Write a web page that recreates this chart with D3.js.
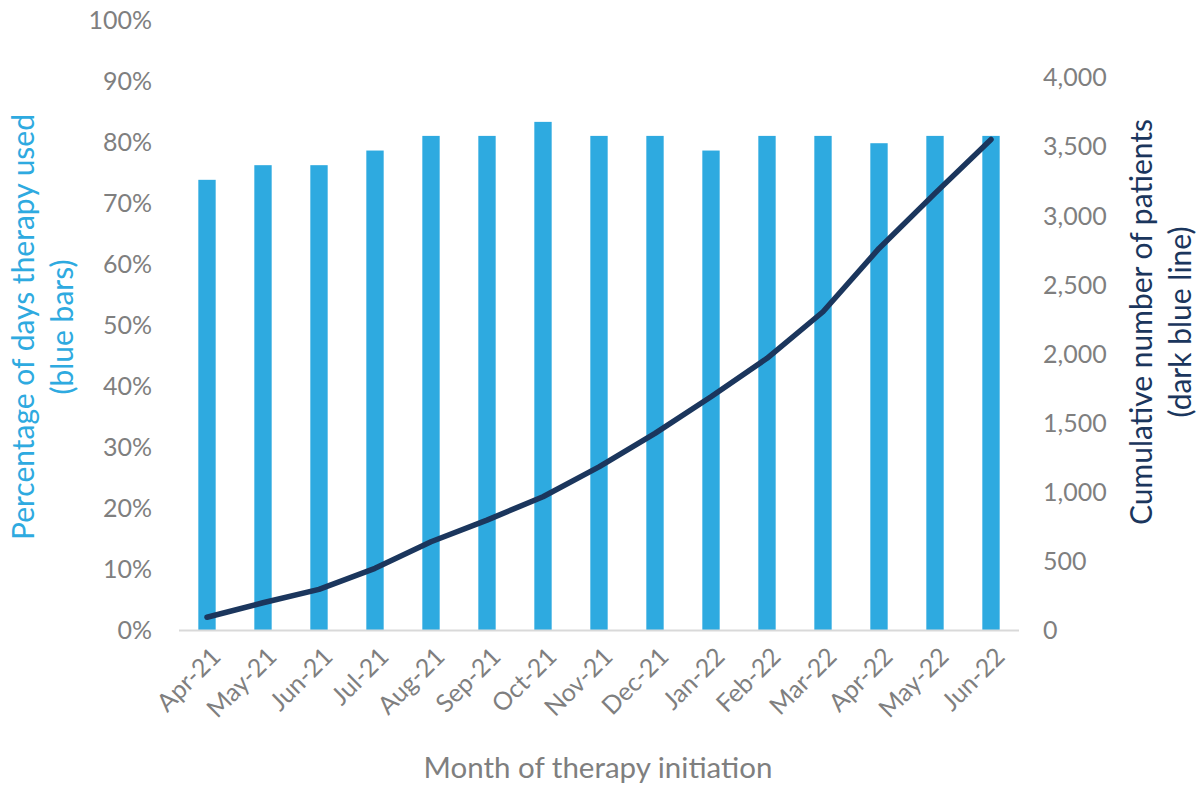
<!DOCTYPE html>
<html><head><meta charset="utf-8">
<script src="https://cdn.jsdelivr.net/npm/d3@7"></script>
<style>body{margin:0;background:#fff}svg{display:block}text{font-family:Lato,"Open Sans",sans-serif}</style>
</head><body>
<svg id="c" width="1198" height="787"></svg>
<script>
const months = ["Apr-21","May-21","Jun-21","Jul-21","Aug-21","Sep-21","Oct-21","Nov-21","Dec-21","Jan-22","Feb-22","Mar-22","Apr-22","May-22","Jun-22"];
const pctDays = [73.8,76.2,76.2,78.6,81.0,81.0,83.3,81.0,81.0,78.6,81.0,81.0,79.8,81.0,81.0];
const cumPatients = [92,197,294,446,638,795,964,1180,1422,1687,1965,2302,2760,3158,3548];
const leftTicks = [0,10,20,30,40,50,60,70,80,90,100];
const rightTicks = [0,500,1000,1500,2000,2500,3000,3500,4000];

const svg = d3.select("#c");
const x0 = 179, x1 = 1019, yb = 630, yt = 20;
const x = d3.scaleBand().domain(months).range([x0, x1]).paddingInner(0.69).paddingOuter(0.345);
const yL = d3.scaleLinear().domain([0,100]).range([yb, yt]);
const yR = d3.scaleLinear().domain([0,4000]).range([yb, 77]);
const grey = "#7f7f7f", barC = "#2eaae0", lineC = "#1b365d";

svg.append("g").selectAll("rect").data(months).join("rect")
  .attr("x", d => x(d)).attr("width", x.bandwidth())
  .attr("y", (d,i) => yL(pctDays[i])).attr("height", (d,i) => yb - yL(pctDays[i]))
  .attr("fill", barC);

svg.append("line").attr("x1", x0).attr("x2", x1).attr("y1", yb+0.5).attr("y2", yb+0.5)
  .attr("stroke", "#d9d9d9").attr("stroke-width", 2);

const line = d3.line().x((d,i) => x(months[i]) + x.bandwidth()/2).y(d => yR(d));
svg.append("path").datum(cumPatients).attr("d", line).attr("fill","none")
  .attr("stroke", lineC).attr("stroke-width", 5.5).attr("stroke-linecap","round").attr("stroke-linejoin","round");

const axL = d3.axisLeft(yL).tickValues(leftTicks).tickFormat(d => d + "%").tickSize(0).tickPadding(0);
const gL = svg.append("g").attr("transform", `translate(152,0)`).call(axL);
gL.select(".domain").remove();
gL.selectAll("text").attr("fill", grey).style("font-size","25px").attr("dy","0.35em");

const axR = d3.axisRight(yR).tickValues(rightTicks).tickFormat(d3.format(",")).tickSize(0).tickPadding(0);
const gR = svg.append("g").attr("transform", `translate(1043,0)`).call(axR);
gR.select(".domain").remove();
gR.selectAll("text").attr("fill", grey).style("font-size","25px").attr("dy","0.35em");

const axX = d3.axisBottom(x).tickSize(0).tickPadding(0);
const gX = svg.append("g").attr("transform", `translate(0,${yb})`).call(axX);
gX.select(".domain").remove();
gX.selectAll("text").attr("fill", grey).style("font-size","25px")
  .attr("text-anchor","end").attr("dy","0.35em")
  .attr("transform","translate(9,22) rotate(-45)");

svg.append("text").attr("x",598).attr("y",778).attr("text-anchor","middle")
  .attr("fill",grey).style("font-size","29.5px").text("Month of therapy initiation");

const tl = svg.append("text").attr("transform","translate(0,327) rotate(-90)").attr("text-anchor","middle")
  .attr("fill",barC).style("font-size","30px");
tl.append("tspan").attr("x",0).attr("y",34).text("Percentage of days therapy used");
tl.append("tspan").attr("x",0).attr("y",73).text("(blue bars)");

const tr = svg.append("text").attr("transform","translate(0,322) rotate(-90)").attr("text-anchor","middle")
  .attr("fill",lineC).style("font-size","30px");
tr.append("tspan").attr("x",0).attr("y",1152).text("Cumulative number of patients");
tr.append("tspan").attr("x",0).attr("y",1191).text("(dark blue line)");
</script>
</body></html>
